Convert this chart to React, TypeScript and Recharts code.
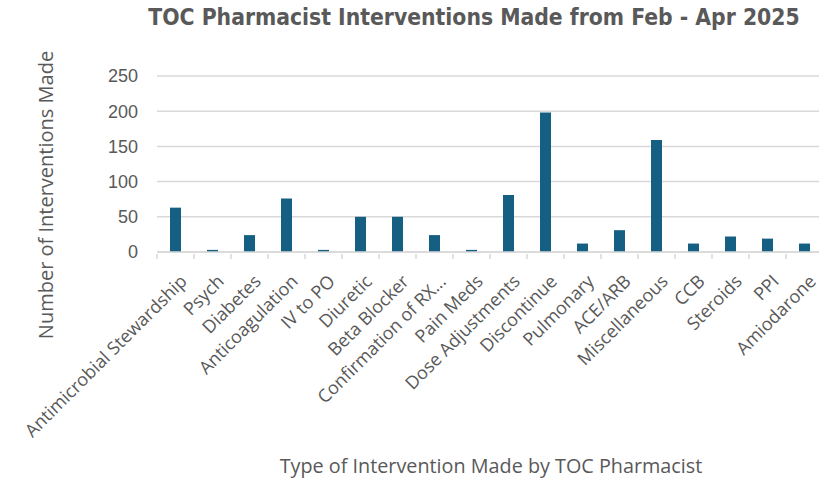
import React from "react";
import { BarChart, Bar, XAxis, YAxis, CartesianGrid } from "recharts";

const categories = [
  "Antimicrobial Stewardship",
  "Psych",
  "Diabetes",
  "Anticoagulation",
  "IV to PO",
  "Diuretic",
  "Beta Blocker",
  "Confirmation of RX...",
  "Pain Meds",
  "Dose Adjustments",
  "Discontinue",
  "Pulmonary",
  "ACE/ARB",
  "Miscellaneous",
  "CCB",
  "Steroids",
  "PPI",
  "Amiodarone",
];

const interventions = [63, 3, 24, 76, 3, 50, 50, 24, 3, 81, 198, 12, 31, 159, 12, 22, 19, 12];

const yTicks = [0, 50, 100, 150, 200, 250];

const data = categories.map((name, i) => ({ name, value: interventions[i] }));

const CHART_W = 830;
const CHART_H = 503;
const Y_AXIS_W = 157;
const MARGIN = { top: 76, right: 7, left: 0, bottom: 11 };
const BAND = (CHART_W - Y_AXIS_W - MARGIN.left - MARGIN.right) / categories.length;

const TEXT = "#595959";
const GRID = "#d9d9d9";
const BAR = "#156082";

function CategoryTick(props: any) {
  const { x, y, payload, index } = props;
  const left = x - BAND / 2;
  return (
    <g>
      <line x1={left} y1={y} x2={left} y2={y + 5} stroke={GRID} strokeWidth={1.5} />
      {index === categories.length - 1 && (
        <line x1={left + BAND} y1={y} x2={left + BAND} y2={y + 5} stroke={GRID} strokeWidth={1.5} />
      )}
      <g transform={`translate(${x + 3},${y + 19})`}>
        <text
          x={0}
          y={0}
          dy="0.75em"
          textAnchor="end"
          transform="rotate(-45)"
          fill={TEXT}
          fontSize={18}
          fontFamily="'Open Sans', sans-serif"
        >
          {payload.value}
        </text>
      </g>
    </g>
  );
}

export default function App() {
  return (
    <div
      style={{
        position: "absolute",
        left: 0,
        top: 0,
        width: 819,
        height: 503,
        overflow: "hidden",
        background: "#fff",
      }}
    >
      <div
        style={{
          position: "absolute",
          left: 0,
          top: 4,
          width: 948,
          textAlign: "center",
          color: TEXT,
          fontFamily: "'Liberation Sans Narrow', 'DejaVu Sans Condensed', Roboto, sans-serif",
          fontWeight: "bold",
          fontSize: 22.7,
          whiteSpace: "nowrap",
        }}
      >
        TOC Pharmacist Interventions Made from Feb - Apr 2025
      </div>
      <div
        style={{
          position: "absolute",
          left: 45,
          top: 195,
          transform: "translate(-50%, -50%) rotate(-90deg)",
          color: TEXT,
          fontFamily: "'Open Sans', sans-serif",
          fontSize: 20,
          whiteSpace: "nowrap",
        }}
      >
        Number of Interventions Made
      </div>
      <div
        style={{
          position: "absolute",
          left: 491,
          top: 465,
          transform: "translate(-50%, -50%)",
          color: TEXT,
          fontFamily: "'Open Sans', sans-serif",
          fontSize: 19.8,
          whiteSpace: "nowrap",
        }}
      >
        Type of Intervention Made by TOC Pharmacist
      </div>
      <BarChart width={CHART_W} height={CHART_H} data={data} margin={MARGIN}>
        <CartesianGrid vertical={false} stroke={GRID} strokeWidth={1.5} />
        <XAxis
          dataKey="name"
          interval={0}
          height={240}
          tickSize={0}
          tickLine={false}
          axisLine={{ stroke: GRID, strokeWidth: 1.5 }}
          tick={<CategoryTick />}
        />
        <YAxis
          width={Y_AXIS_W}
          domain={[0, 250]}
          ticks={yTicks}
          axisLine={false}
          tickLine={false}
          tickSize={0}
          tickMargin={19}
          tick={{ fill: TEXT, fontSize: 18, fontFamily: "'Liberation Sans', Arial, sans-serif" }}
        />
        <Bar dataKey="value" fill={BAR} barSize={11} isAnimationActive={false} />
      </BarChart>
    </div>
  );
}
